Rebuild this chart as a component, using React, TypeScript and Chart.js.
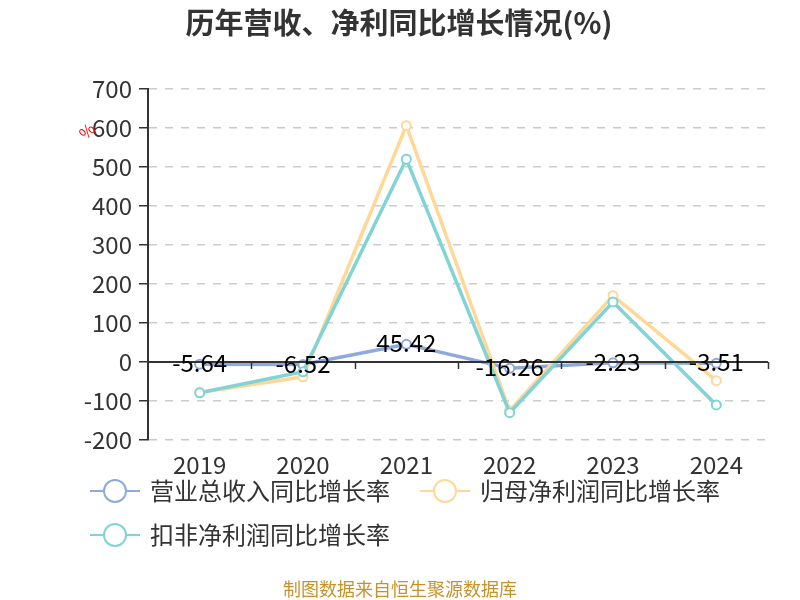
import React, { useEffect, useRef } from "react";
import { Chart, registerables } from "chart.js";

Chart.register(...registerables);

const years = ["2019", "2020", "2021", "2022", "2023", "2024"];
const revenueGrowth = [-5.64, -6.52, 45.42, -16.26, -2.23, -3.51];
const netProfitGrowth = [-78, -38, 606, -125, 170, -48];
const deductedProfitGrowth = [-79, -25, 520, -130, 154, -110];
const seriesNames = ["营业总收入同比增长率", "归母净利润同比增长率", "扣非净利润同比增长率"];
const colors = ["#8eaadc", "#ffd898", "#80d4d6"];
const yTicks = [-200, -100, 0, 100, 200, 300, 400, 500, 600, 700];

const FONT = "'Noto Sans CJK SC', 'Noto Sans', sans-serif";

const customPlugin = {
  id: "custom",
  afterDraw(chart: any) {
    const ctx = chart.ctx;
    const area = chart.chartArea;
    const y = chart.scales.y;
    ctx.save();
    // title
    ctx.fillStyle = "#333";
    ctx.font = `bold 29px ${FONT}`;
    ctx.textAlign = "center";
    ctx.textBaseline = "middle";
    ctx.fillText("历年营收、净利同比增长情况(%)", 399, 23);
    // % axis title
    ctx.save();
    ctx.translate(87, 131);
    ctx.rotate(-Math.PI / 4);
    ctx.fillStyle = "#ff0000";
    ctx.font = `16px ${FONT}`;
    ctx.fillText("%", 0, 0);
    ctx.restore();
    // zero line
    const y0 = Math.round(y.getPixelForValue(0));
    ctx.strokeStyle = "#333";
    ctx.lineWidth = 2;
    ctx.beginPath();
    ctx.moveTo(area.left, y0);
    ctx.lineTo(area.right, y0);
    ctx.stroke();
    const n = years.length;
    const step = (area.right - area.left) / n;
    ctx.lineWidth = 1.5;
    for (let i = 1; i <= n; i++) {
      const px = Math.round(area.left + step * i) + 0.5;
      ctx.beginPath();
      ctx.moveTo(px, y0);
      ctx.lineTo(px, y0 + 7);
      ctx.stroke();
    }
    // data labels on revenue series
    const meta = chart.getDatasetMeta(0);
    ctx.fillStyle = "#000";
    ctx.font = `24px ${FONT}`;
    ctx.textAlign = "center";
    ctx.textBaseline = "middle";
    meta.data.forEach((pt: any, i: number) => {
      ctx.fillText(String(revenueGrowth[i].toFixed(2)), pt.x, pt.y - 1);
    });
    // legend
    const items = [
      { x: 90, y: 491 },
      { x: 420, y: 491 },
      { x: 90, y: 535 },
    ];
    ctx.font = `24px ${FONT}`;
    ctx.textAlign = "left";
    items.forEach((it, i) => {
      ctx.strokeStyle = colors[i];
      ctx.lineWidth = 2;
      ctx.beginPath();
      ctx.moveTo(it.x, it.y);
      ctx.lineTo(it.x + 50, it.y);
      ctx.stroke();
      ctx.beginPath();
      ctx.arc(it.x + 25, it.y, 11, 0, Math.PI * 2);
      ctx.fillStyle = "#fff";
      ctx.fill();
      ctx.stroke();
      ctx.fillStyle = "#333";
      ctx.fillText(seriesNames[i], it.x + 60, it.y);
    });
    // footer
    ctx.fillStyle = "#c8922a";
    ctx.font = `18px ${FONT}`;
    ctx.textAlign = "center";
    ctx.fillText("制图数据来自恒生聚源数据库", 400, 589);
    ctx.restore();
  },
};

export default function App() {
  const ref = useRef<HTMLCanvasElement>(null);
  useEffect(() => {
    if (!ref.current) return;
    const mk = (label: string, data: number[], color: string, order: number) => ({
      label,
      data,
      order,
      borderColor: color,
      backgroundColor: "#fff",
      borderWidth: 3.5,
      pointRadius: 4.5,
      pointBorderWidth: 2,
      pointBackgroundColor: "#fff",
      pointBorderColor: color,
      tension: 0,
    });
    const chart = new Chart(ref.current, {
      type: "line",
      data: {
        labels: years,
        datasets: [
          mk(seriesNames[0], revenueGrowth, colors[0], 3),
          mk(seriesNames[1], netProfitGrowth, colors[1], 2),
          mk(seriesNames[2], deductedProfitGrowth, colors[2], 1),
        ] as any,
      },
      options: {
        responsive: false,
        animation: false,
        layout: { padding: { top: 89, right: 32, bottom: 0, left: 0 } },
        plugins: { legend: { display: false }, title: { display: false }, tooltip: { enabled: false } },
        scales: {
          x: {
            offset: true,
            grid: { display: false, drawTicks: false },
            border: { display: false },
            ticks: { color: "#333", font: { size: 24, family: FONT }, padding: 10 },
            afterFit: (s: any) => { s.height = 160; },
          },
          y: {
            min: -200,
            max: 700,
            afterBuildTicks: (s: any) => { s.ticks = yTicks.map((v) => ({ value: v })); },
            afterFit: (s: any) => { s.width = 148; },
            grid: {
              color: (c: any) => (c.tick && c.tick.value === 0 ? "rgba(0,0,0,0)" : "#cccccc"),
              lineWidth: 1.5,
              tickColor: "#333",
              tickLength: 9,
              tickBorderDash: [],
            },
            border: { display: true, color: "#333", width: 2, dash: [8, 8] },
            ticks: { color: "#333", font: { size: 24, family: FONT }, padding: 7 },
          },
        },
      },
      plugins: [customPlugin],
    });
    return () => chart.destroy();
  }, []);
  return (
    <div style={{ position: "absolute", left: 0, top: 0, width: 800, height: 600, background: "#fff" }}>
      <canvas ref={ref} width={800} height={600} />
    </div>
  );
}
